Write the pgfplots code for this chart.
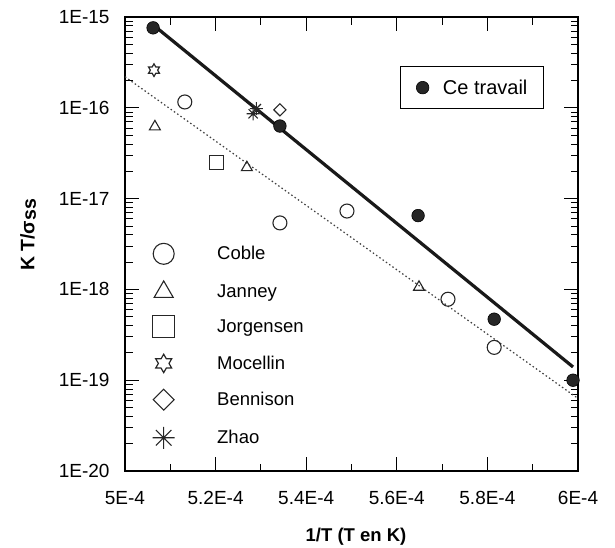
\documentclass[border=0pt]{standalone}
\usepackage{pgfplots}
\pgfplotsset{compat=1.18}
\usepackage{fontspec}
\setmainfont{Liberation Sans}

\pgfdeclareplotmark{hexstar}{%
  \pgfpathmoveto{\pgfqpointpolar{90}{\pgfplotmarksize}}%
  \pgfpathlineto{\pgfqpointpolar{120}{0.57735\pgfplotmarksize}}%
  \pgfpathlineto{\pgfqpointpolar{150}{\pgfplotmarksize}}%
  \pgfpathlineto{\pgfqpointpolar{180}{0.57735\pgfplotmarksize}}%
  \pgfpathlineto{\pgfqpointpolar{210}{\pgfplotmarksize}}%
  \pgfpathlineto{\pgfqpointpolar{240}{0.57735\pgfplotmarksize}}%
  \pgfpathlineto{\pgfqpointpolar{270}{\pgfplotmarksize}}%
  \pgfpathlineto{\pgfqpointpolar{300}{0.57735\pgfplotmarksize}}%
  \pgfpathlineto{\pgfqpointpolar{330}{\pgfplotmarksize}}%
  \pgfpathlineto{\pgfqpointpolar{0}{0.57735\pgfplotmarksize}}%
  \pgfpathlineto{\pgfqpointpolar{30}{\pgfplotmarksize}}%
  \pgfpathlineto{\pgfqpointpolar{60}{0.57735\pgfplotmarksize}}%
  \pgfpathclose
  \pgfusepathqstroke
}
\pgfdeclareplotmark{ast8}{%
  \pgfpathmoveto{\pgfqpoint{0pt}{\pgfplotmarksize}}%
  \pgfpathlineto{\pgfqpoint{0pt}{-\pgfplotmarksize}}%
  \pgfpathmoveto{\pgfqpoint{\pgfplotmarksize}{0pt}}%
  \pgfpathlineto{\pgfqpoint{-\pgfplotmarksize}{0pt}}%
  \pgfpathmoveto{\pgfqpoint{0.7071\pgfplotmarksize}{0.7071\pgfplotmarksize}}%
  \pgfpathlineto{\pgfqpoint{-0.7071\pgfplotmarksize}{-0.7071\pgfplotmarksize}}%
  \pgfpathmoveto{\pgfqpoint{-0.7071\pgfplotmarksize}{0.7071\pgfplotmarksize}}%
  \pgfpathlineto{\pgfqpoint{0.7071\pgfplotmarksize}{-0.7071\pgfplotmarksize}}%
  \pgfusepathqstroke
  \pgfpathcircle{\pgfpointorigin}{1.3pt}%
  \pgfusepathqfill
}

\pgfplotsset{
  legimg/.style={legend image code/.code={\draw[##1,mark size=#1] plot coordinates {(0pt,0pt)};}},
  legimgplain/.style={legend image code/.code={\draw[##1] plot coordinates {(0pt,0pt)};}},
}

\begin{document}
\begin{tikzpicture}
\path (-125pt,-77pt) rectangle (490pt,471pt);
\begin{axis}[
  at={(0pt,0pt)}, anchor=south west,
  scale only axis, width=453pt, height=454pt,
  xmin=5e-4, xmax=6e-4, ymin=1e-20, ymax=1e-15, ymode=log,
  axis line style={line width=1.3pt},
  xtick={5e-4,5.2e-4,5.4e-4,5.6e-4,5.8e-4,6e-4},
  xticklabels={5E-4,5.2E-4,5.4E-4,5.6E-4,5.8E-4,6E-4},
  minor xtick={5.1e-4,5.3e-4,5.5e-4,5.7e-4,5.9e-4},
  scaled x ticks=false,
  ytick={1e-20,1e-19,1e-18,1e-17,1e-16,1e-15},
  yticklabels={1E-20,1E-19,1E-18,1E-17,1E-16,1E-15},
  xtick pos=both, ytick pos=both,
  tick align=inside,
  major tick length=14pt, minor tick length=7.5pt,
  major tick style={draw=black, line width=1pt},
  minor tick style={draw=black, line width=0.9pt},
  tick label style={font=\fontsize{19}{19}\selectfont},
  yticklabel style={xshift=-12pt},
  xticklabel style={yshift=-17pt},
  xlabel={\textbf{1/T (T en K)}},
  x label style={at={(axis description cs:0.51,-0.1454)}, anchor=center, inner sep=0pt, font=\fontsize{18.5}{18.5}\selectfont},
  ylabel={\textbf{K T/σ\raisebox{-1.5pt}{ss}}},
  y label style={at={(axis description cs:-0.214,0.52)}, anchor=center, inner sep=0pt, font=\fontsize{19.5}{19.5}\selectfont},
  legend style={draw=none, fill=none, at={(0.0607,0.502)}, anchor=north west,
    inner sep=0pt, row sep=16.6pt, column sep=42.5pt,
    font=\fontsize{18.5}{18.5}\selectfont, nodes={inner sep=0pt}},
  legend cell align=left,
]
% major tick marks on all four sides
\addplot[forget plot, black, line width=1pt, unbounded coords=jump] coordinates {
(5.2e-4,1e-20)(5.2e-4,1.426e-20)(nan,nan)(5.4e-4,1e-20)(5.4e-4,1.426e-20)(nan,nan)
(5.6e-4,1e-20)(5.6e-4,1.426e-20)(nan,nan)(5.8e-4,1e-20)(5.8e-4,1.426e-20)(nan,nan)
(5.2e-4,1e-15)(5.2e-4,7.01e-16)(nan,nan)(5.4e-4,1e-15)(5.4e-4,7.01e-16)(nan,nan)
(5.6e-4,1e-15)(5.6e-4,7.01e-16)(nan,nan)(5.8e-4,1e-15)(5.8e-4,7.01e-16)(nan,nan)
(5e-4,1e-19)(5.0309e-4,1e-19)(nan,nan)(5e-4,1e-18)(5.0309e-4,1e-18)(nan,nan)
(5e-4,1e-17)(5.0309e-4,1e-17)(nan,nan)(5e-4,1e-16)(5.0309e-4,1e-16)(nan,nan)
(6e-4,1e-19)(5.9691e-4,1e-19)(nan,nan)(6e-4,1e-18)(5.9691e-4,1e-18)(nan,nan)
(6e-4,1e-17)(5.9691e-4,1e-17)(nan,nan)(6e-4,1e-16)(5.9691e-4,1e-16)
};
% minor tick marks
\addplot[forget plot, black, line width=0.9pt, unbounded coords=jump] coordinates {
(5.1e-4,1e-20)(5.1e-4,1.209e-20)(nan,nan)(5.3e-4,1e-20)(5.3e-4,1.209e-20)(nan,nan)
(5.5e-4,1e-20)(5.5e-4,1.209e-20)(nan,nan)(5.7e-4,1e-20)(5.7e-4,1.209e-20)(nan,nan)
(5.9e-4,1e-20)(5.9e-4,1.209e-20)(nan,nan)
(5.1e-4,1e-15)(5.1e-4,8.27e-16)(nan,nan)(5.3e-4,1e-15)(5.3e-4,8.27e-16)(nan,nan)
(5.5e-4,1e-15)(5.5e-4,8.27e-16)(nan,nan)(5.7e-4,1e-15)(5.7e-4,8.27e-16)(nan,nan)
(5.9e-4,1e-15)(5.9e-4,8.27e-16)(nan,nan)
(5e-4,2e-20)(5.01656e-4,2e-20)(nan,nan)(5e-4,3e-20)(5.01656e-4,3e-20)(nan,nan)
(5e-4,4e-20)(5.01656e-4,4e-20)(nan,nan)(5e-4,5e-20)(5.01656e-4,5e-20)(nan,nan)
(5e-4,6e-20)(5.01656e-4,6e-20)(nan,nan)(5e-4,7e-20)(5.01656e-4,7e-20)(nan,nan)
(5e-4,8e-20)(5.01656e-4,8e-20)(nan,nan)(5e-4,9e-20)(5.01656e-4,9e-20)(nan,nan)
(5e-4,2e-19)(5.01656e-4,2e-19)(nan,nan)(5e-4,3e-19)(5.01656e-4,3e-19)(nan,nan)
(5e-4,4e-19)(5.01656e-4,4e-19)(nan,nan)(5e-4,5e-19)(5.01656e-4,5e-19)(nan,nan)
(5e-4,6e-19)(5.01656e-4,6e-19)(nan,nan)(5e-4,7e-19)(5.01656e-4,7e-19)(nan,nan)
(5e-4,8e-19)(5.01656e-4,8e-19)(nan,nan)(5e-4,9e-19)(5.01656e-4,9e-19)(nan,nan)
(5e-4,2e-18)(5.01656e-4,2e-18)(nan,nan)(5e-4,3e-18)(5.01656e-4,3e-18)(nan,nan)
(5e-4,4e-18)(5.01656e-4,4e-18)(nan,nan)(5e-4,5e-18)(5.01656e-4,5e-18)(nan,nan)
(5e-4,6e-18)(5.01656e-4,6e-18)(nan,nan)(5e-4,7e-18)(5.01656e-4,7e-18)(nan,nan)
(5e-4,8e-18)(5.01656e-4,8e-18)(nan,nan)(5e-4,9e-18)(5.01656e-4,9e-18)(nan,nan)
(5e-4,2e-17)(5.01656e-4,2e-17)(nan,nan)(5e-4,3e-17)(5.01656e-4,3e-17)(nan,nan)
(5e-4,4e-17)(5.01656e-4,4e-17)(nan,nan)(5e-4,5e-17)(5.01656e-4,5e-17)(nan,nan)
(5e-4,6e-17)(5.01656e-4,6e-17)(nan,nan)(5e-4,7e-17)(5.01656e-4,7e-17)(nan,nan)
(5e-4,8e-17)(5.01656e-4,8e-17)(nan,nan)(5e-4,9e-17)(5.01656e-4,9e-17)(nan,nan)
(5e-4,2e-16)(5.01656e-4,2e-16)(nan,nan)(5e-4,3e-16)(5.01656e-4,3e-16)(nan,nan)
(5e-4,4e-16)(5.01656e-4,4e-16)(nan,nan)(5e-4,5e-16)(5.01656e-4,5e-16)(nan,nan)
(5e-4,6e-16)(5.01656e-4,6e-16)(nan,nan)(5e-4,7e-16)(5.01656e-4,7e-16)(nan,nan)
(5e-4,8e-16)(5.01656e-4,8e-16)(nan,nan)(5e-4,9e-16)(5.01656e-4,9e-16)(nan,nan)
(6e-4,2e-20)(5.98344e-4,2e-20)(nan,nan)(6e-4,3e-20)(5.98344e-4,3e-20)(nan,nan)
(6e-4,4e-20)(5.98344e-4,4e-20)(nan,nan)(6e-4,5e-20)(5.98344e-4,5e-20)(nan,nan)
(6e-4,6e-20)(5.98344e-4,6e-20)(nan,nan)(6e-4,7e-20)(5.98344e-4,7e-20)(nan,nan)
(6e-4,8e-20)(5.98344e-4,8e-20)(nan,nan)(6e-4,9e-20)(5.98344e-4,9e-20)(nan,nan)
(6e-4,2e-19)(5.98344e-4,2e-19)(nan,nan)(6e-4,3e-19)(5.98344e-4,3e-19)(nan,nan)
(6e-4,4e-19)(5.98344e-4,4e-19)(nan,nan)(6e-4,5e-19)(5.98344e-4,5e-19)(nan,nan)
(6e-4,6e-19)(5.98344e-4,6e-19)(nan,nan)(6e-4,7e-19)(5.98344e-4,7e-19)(nan,nan)
(6e-4,8e-19)(5.98344e-4,8e-19)(nan,nan)(6e-4,9e-19)(5.98344e-4,9e-19)(nan,nan)
(6e-4,2e-18)(5.98344e-4,2e-18)(nan,nan)(6e-4,3e-18)(5.98344e-4,3e-18)(nan,nan)
(6e-4,4e-18)(5.98344e-4,4e-18)(nan,nan)(6e-4,5e-18)(5.98344e-4,5e-18)(nan,nan)
(6e-4,6e-18)(5.98344e-4,6e-18)(nan,nan)(6e-4,7e-18)(5.98344e-4,7e-18)(nan,nan)
(6e-4,8e-18)(5.98344e-4,8e-18)(nan,nan)(6e-4,9e-18)(5.98344e-4,9e-18)(nan,nan)
(6e-4,2e-17)(5.98344e-4,2e-17)(nan,nan)(6e-4,3e-17)(5.98344e-4,3e-17)(nan,nan)
(6e-4,4e-17)(5.98344e-4,4e-17)(nan,nan)(6e-4,5e-17)(5.98344e-4,5e-17)(nan,nan)
(6e-4,6e-17)(5.98344e-4,6e-17)(nan,nan)(6e-4,7e-17)(5.98344e-4,7e-17)(nan,nan)
(6e-4,8e-17)(5.98344e-4,8e-17)(nan,nan)(6e-4,9e-17)(5.98344e-4,9e-17)(nan,nan)
(6e-4,2e-16)(5.98344e-4,2e-16)(nan,nan)(6e-4,3e-16)(5.98344e-4,3e-16)(nan,nan)
(6e-4,4e-16)(5.98344e-4,4e-16)(nan,nan)(6e-4,5e-16)(5.98344e-4,5e-16)(nan,nan)
(6e-4,6e-16)(5.98344e-4,6e-16)(nan,nan)(6e-4,7e-16)(5.98344e-4,7e-16)(nan,nan)
(6e-4,8e-16)(5.98344e-4,8e-16)(nan,nan)(6e-4,9e-16)(5.98344e-4,9e-16)
};
% fitted lines
\addplot[forget plot, black!75, line width=1.2pt, dash pattern=on 1.5pt off 2.5pt] coordinates {(5e-4,2.2e-16) (6e-4,6.3e-20)};
\addplot[forget plot, black!90, line width=3.2pt] coordinates {(5.062e-4,8.2e-16) (5.989e-4,1.4e-19)};

\addplot[only marks, mark=o, mark size=7pt, black!85, line width=1.1pt, legimg=10.5pt]
  coordinates {(5.132e-4,1.16e-16) (5.342e-4,5.4e-18) (5.490e-4,7.3e-18) (5.713e-4,7.8e-19) (5.815e-4,2.3e-19)};
\addlegendentry{Coble}

\addplot[only marks, mark=triangle, mark size=6.3pt, black!85, line width=1.1pt, legimg=11pt]
  coordinates {(5.066e-4,6.2e-17) (5.269e-4,2.2e-17) (5.649e-4,1.06e-18)};
\addlegendentry{Janney}

\addplot[only marks, mark=square, mark size=7pt, black!85, line width=1.1pt, legimg=11pt]
  coordinates {(5.201e-4,2.5e-17)};
\addlegendentry{Jorgensen}

\addplot[only marks, mark=hexstar, mark size=6.3pt, black!85, line width=1.2pt, legimg=9.2pt]
  coordinates {(5.064e-4,2.6e-16)};
\addlegendentry{Mocellin}

\addplot[only marks, mark=square, mark options={rotate=45}, mark size=4.3pt, black!85, line width=1.1pt, legimg=7.4pt]
  coordinates {(5.342e-4,9.5e-17)};
\addlegendentry{Bennison}

\addplot[only marks, mark=ast8, mark size=6.5pt, black!85, line width=1.1pt, legimg=11pt]
  coordinates {(5.283e-4,8.6e-17) (5.290e-4,9.8e-17)};
\addlegendentry{Zhao}
\end{axis}

\begin{axis}[
  at={(0pt,0pt)}, anchor=south west,
  scale only axis, width=453pt, height=454pt,
  xmin=5e-4, xmax=6e-4, ymin=1e-20, ymax=1e-15, ymode=log,
  axis lines=none, xtick=\empty, ytick=\empty,
  legend style={draw=black, line width=1.2pt, fill=white, at={(0.925,0.892)}, anchor=north east,
    inner xsep=16pt, inner ysep=13pt, column sep=14pt,
    font=\fontsize{20}{20}\selectfont, nodes={inner sep=0pt}},
]
\addplot[only marks, mark=*, mark size=6.3pt, draw=black, fill=black!85, line width=0.6pt, legimgplain]
  coordinates {(5.062e-4,7.6e-16) (5.342e-4,6.3e-17) (5.647e-4,6.5e-18) (5.815e-4,4.7e-19) (5.989e-4,1.0e-19)};
\addlegendentry{Ce travail}
\end{axis}
\end{tikzpicture}
\end{document}
